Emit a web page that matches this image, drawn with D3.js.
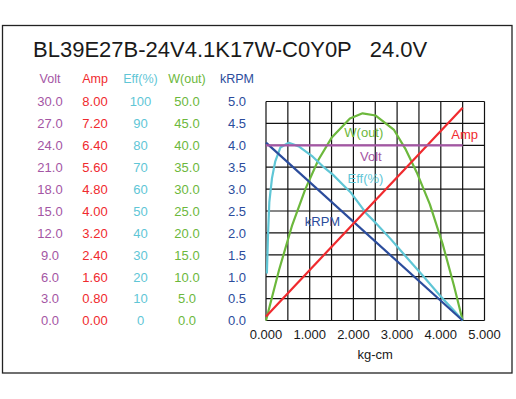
<!DOCTYPE html>
<html>
<head>
<meta charset="utf-8">
<script src="https://cdn.jsdelivr.net/npm/d3@7"></script>
<style>
  html, body { margin: 0; padding: 0; background: #fff; }
  svg { display: block; font-family: "Liberation Sans", Arial, sans-serif; }
</style>
</head>
<body>
<svg id="chart" width="516" height="399"></svg>
<script>
// ---------- data ----------
const title = "BL39E27B-24V4.1K17W-C0Y0P   24.0V";

const voltTicks = ["30.0","27.0","24.0","21.0","18.0","15.0","12.0","9.0","6.0","3.0","0.0"];
const ampTicks  = ["8.00","7.20","6.40","5.60","4.80","4.00","3.20","2.40","1.60","0.80","0.00"];
const effTicks  = ["100","90","80","70","60","50","40","30","20","10","0"];
const wTicks    = ["50.0","45.0","40.0","35.0","30.0","25.0","20.0","15.0","10.0","5.0","0.0"];
const rpmTicks  = ["5.0","4.5","4.0","3.5","3.0","2.5","2.0","1.5","1.0","0.5","0.0"];
const xTicks    = ["0.000","1.000","2.000","3.000","4.000","5.000"];

// torque (kg-cm) samples and values
const voltT = [0, 4.5];
const voltV = [24.0, 24.0];

const ampT = [0, 4.5];
const ampV = [0.15, 7.77];

const rpmT = [0, 4.5];
const rpmV = [4.06, 0];

const effT = [0.02, 0.046, 0.076, 0.137, 0.21, 0.33, 0.52, 0.75, 1.07, 1.30, 1.53, 1.76, 1.95, 2.29, 2.5, 2.84, 3.2, 3.6, 4.0, 4.3, 4.5];
const effV = [21.5, 39, 54, 65, 72.5, 79, 81.2, 79.5, 74.8, 70.4, 66.6, 62.0, 58.2, 49.0, 44.8, 37.5, 29.2, 20.2, 11.0, 4.6, 0];

const wT = [0, 0.3, 0.6, 0.9, 1.2, 1.5, 1.92, 2.21, 2.51, 2.93, 3.2, 3.45, 3.75, 4.05, 4.3, 4.5];
const wV = [0, 11.6, 21.8, 30.0, 36.7, 41.7, 46.1, 47.3, 46.8, 43.5, 39.0, 33.8, 26.5, 17.2, 8.0, 0];

// ---------- layout ----------
const svg = d3.select("#chart");
const plot = { left: 266, right: 484.5, top: 101.5, bottom: 320.5 };

const colors = {
  volt: "#a456a4",
  amp:  "#f02a2e",
  eff:  "#5fc6d6",
  w:    "#6cb83c",
  rpm:  "#2b4c9c"
};

// outer frame
svg.append("rect")
  .attr("x", 2.5).attr("y", 25.5)
  .attr("width", 509.5).attr("height", 347.5)
  .attr("fill", "none").attr("stroke", "#222").attr("stroke-width", 1.3);

// title
svg.append("text")
  .attr("x", 33).attr("y", 56.5)
  .attr("font-size", 22)
  .attr("fill", "#1a1a1a")
  .style("white-space", "pre")
  .text(title);

// scales
const x = d3.scaleLinear().domain([0, 5]).range([plot.left, plot.right]);
const yV = d3.scaleLinear().domain([0, 30]).range([plot.bottom, plot.top]);
const yA = d3.scaleLinear().domain([0, 8]).range([plot.bottom, plot.top]);
const yE = d3.scaleLinear().domain([0, 100]).range([plot.bottom, plot.top]);
const yW = d3.scaleLinear().domain([0, 50]).range([plot.bottom, plot.top]);
const yR = d3.scaleLinear().domain([0, 5]).range([plot.bottom, plot.top]);

// left columns of tick labels
const cols = [
  { name: "Volt",   cx: 50,    ticks: voltTicks, color: colors.volt },
  { name: "Amp",    cx: 95,    ticks: ampTicks,  color: colors.amp },
  { name: "Eff(%)", cx: 140.5, ticks: effTicks,  color: colors.eff },
  { name: "W(out)", cx: 187,   ticks: wTicks,    color: colors.w },
  { name: "kRPM",   cx: 237,   ticks: rpmTicks,  color: colors.rpm }
];
const rowScale = d3.scaleLinear().domain([0, 10]).range([plot.top, plot.bottom]);

cols.forEach(c => {
  const g = svg.append("g").attr("fill", c.color).attr("text-anchor", "middle");
  g.append("text").attr("x", c.cx).attr("y", 83.3).attr("font-size", 12.5).text(c.name);
  g.selectAll("text.tk").data(c.ticks).join("text")
    .attr("class", "tk")
    .attr("x", c.cx)
    .attr("y", (d, i) => rowScale(i) + 4.8)
    .attr("font-size", 13)
    .text(d => d);
});

// grid
const grid = svg.append("g").attr("stroke", "#111").attr("stroke-width", 1.2);
grid.selectAll("line.v").data(d3.range(0, 5.01, 0.5)).join("line")
  .attr("class", "v")
  .attr("x1", d => x(d)).attr("x2", d => x(d))
  .attr("y1", plot.top).attr("y2", plot.bottom);
grid.selectAll("line.h").data(d3.range(0, 10.01, 1)).join("line")
  .attr("class", "h")
  .attr("x1", plot.left).attr("x2", plot.right)
  .attr("y1", d => rowScale(d)).attr("y2", d => rowScale(d));

// x tick labels
svg.append("g").attr("text-anchor", "middle").attr("fill", "#1a1a1a")
  .selectAll("text").data(xTicks).join("text")
  .attr("x", d => x(+d)).attr("y", 338.8)
  .attr("font-size", 13)
  .text(d => d);

svg.append("text")
  .attr("x", (plot.left + plot.right) / 2).attr("y", 358.5)
  .attr("text-anchor", "middle").attr("font-size", 13).attr("fill", "#1a1a1a")
  .text("kg-cm");

// curves
function drawSeries(ts, vs, yScale, color) {
  const pts = ts.map((t, i) => [t, vs[i]]);
  const line = d3.line().x(d => x(d[0])).y(d => yScale(d[1]));
  svg.append("path")
    .attr("d", line(pts))
    .attr("fill", "none")
    .attr("stroke", color)
    .attr("stroke-width", 2.2)
    .attr("stroke-linejoin", "round");
}
drawSeries(wT, wV, yW, colors.w);
drawSeries(effT, effV, yE, colors.eff);
drawSeries(rpmT, rpmV, yR, colors.rpm);
drawSeries(ampT, ampV, yA, colors.amp);
drawSeries(voltT, voltV, yV, colors.volt);

// curve labels
const labels = [
  { text: "W(out)", x: 363.8, y: 137.2, color: colors.w },
  { text: "Amp",    x: 464.7, y: 138.8, color: colors.amp },
  { text: "Volt",   x: 370.8, y: 161.2, color: colors.volt },
  { text: "Eff(%)", x: 365.5, y: 182.8, color: colors.eff },
  { text: "kRPM",   x: 322.5, y: 226.2, color: colors.rpm }
];
svg.append("g").attr("text-anchor", "middle")
  .selectAll("text").data(labels).join("text")
  .attr("x", d => d.x).attr("y", d => d.y)
  .attr("fill", d => d.color)
  .attr("font-size", 13)
  .text(d => d.text);
</script>
</body>
</html>
